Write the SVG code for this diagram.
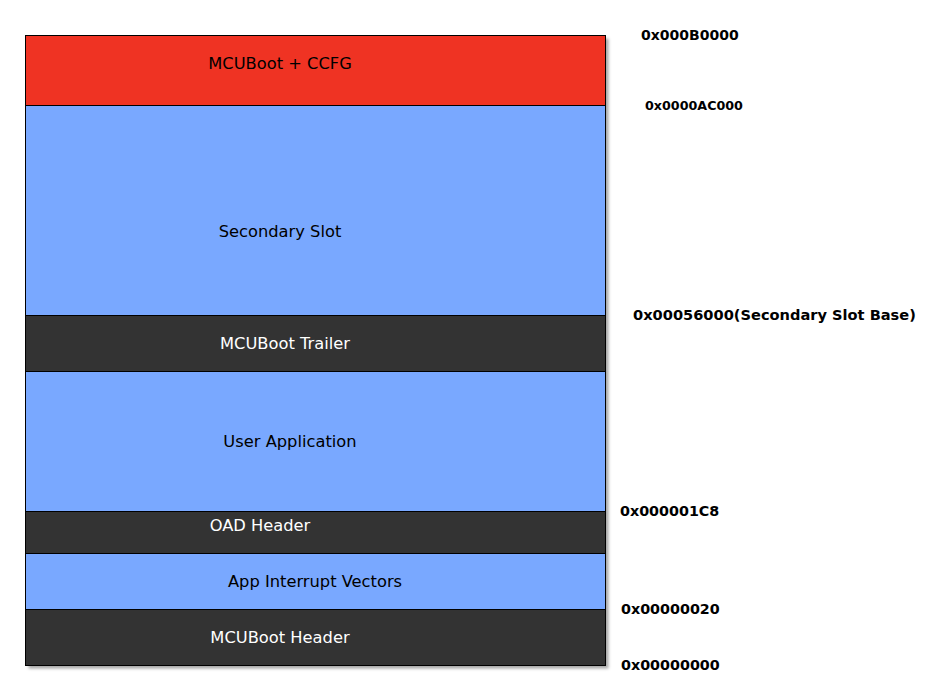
<svg xmlns="http://www.w3.org/2000/svg" width="950" height="700" viewBox="0 0 950 700">
<defs>
<filter id="sh" x="-5%" y="-5%" width="110%" height="110%">
<feGaussianBlur in="SourceAlpha" stdDeviation="1.5"/>
<feOffset dx="3" dy="3" result="b"/>
<feFlood flood-color="#000" flood-opacity="0.35"/>
<feComposite in2="b" operator="in"/>
<feMerge><feMergeNode/><feMergeNode in="SourceGraphic"/></feMerge>
</filter>
</defs>
<style>
.blk{stroke:#000;stroke-width:1}
.red{fill:#EF3323}
.blue{fill:#79A8FF}
.dark{fill:#333333}
.lbl{font-family:"DejaVu Sans",sans-serif;font-size:16.3px;text-anchor:middle}
.lb{fill:#000}
.lw{fill:#fff}
.addr{font-family:"DejaVu Sans",sans-serif;font-weight:bold;font-size:14.3px;fill:#000}
</style>
<rect x="25.5" y="35.5" width="580" height="630" fill="#fff" filter="url(#sh)"/>
<g id="mcuboot-ccfg"><rect class="blk red" x="25.5" y="35.5" width="580" height="70"/><text class="lbl lb" x="280" y="69">MCUBoot + CCFG</text></g>
<g id="secondary-slot"><rect class="blk blue" x="25.5" y="105.5" width="580" height="210"/><text class="lbl lb" x="280" y="237">Secondary Slot</text></g>
<g id="mcuboot-trailer"><rect class="blk dark" x="25.5" y="315.5" width="580" height="56"/><text class="lbl lw" x="285" y="349">MCUBoot Trailer</text></g>
<g id="user-application"><rect class="blk blue" x="25.5" y="371.5" width="580" height="140"/><text class="lbl lb" x="290" y="447">User Application</text></g>
<g id="oad-header"><rect class="blk dark" x="25.5" y="511.5" width="580" height="42"/><text class="lbl lw" x="260" y="531">OAD Header</text></g>
<g id="app-interrupt-vectors"><rect class="blk blue" x="25.5" y="553.5" width="580" height="56"/><text class="lbl lb" x="315" y="587">App Interrupt Vectors</text></g>
<g id="mcuboot-header"><rect class="blk dark" x="25.5" y="609.5" width="580" height="56"/><text class="lbl lw" x="280" y="643">MCUBoot Header</text></g>
<g id="addresses">
<text class="addr" x="641" y="40" style="font-size:14px">0x000B0000</text>
<text class="addr" x="645" y="110" style="font-size:12.7px">0x0000AC000</text>
<text class="addr" x="633" y="320" style="font-size:14.6px">0x00056000(Secondary Slot Base)</text>
<text class="addr" x="620" y="516">0x000001C8</text>
<text class="addr" x="621" y="614">0x00000020</text>
<text class="addr" x="621" y="670">0x00000000</text>
</g>
<g id="connectors"/>
</svg>
